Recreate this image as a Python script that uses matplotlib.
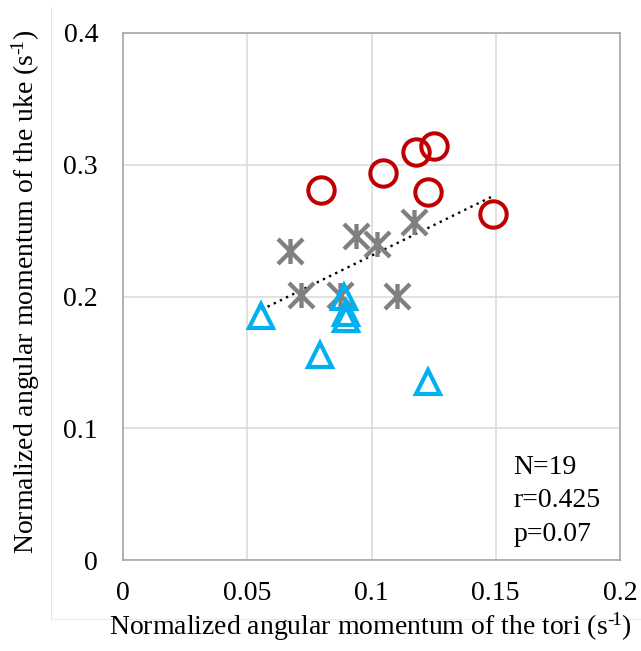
import numpy as np
import matplotlib
matplotlib.use('Agg')
import matplotlib.pyplot as plt
from matplotlib.path import Path
from matplotlib.lines import Line2D

plt.rcParams['font.family'] = ['Liberation Serif', 'DejaVu Serif']
plt.rcParams['mathtext.fontset'] = 'custom'
plt.rcParams['mathtext.rm'] = 'Liberation Serif'
plt.rcParams['mathtext.it'] = 'Liberation Serif:italic'

# red circles
red_x = [0.0797, 0.1045, 0.1178, 0.1251, 0.1226, 0.1490]
red_y = [0.2805, 0.2940, 0.3100, 0.3140, 0.2790, 0.2628]
# gray asterisks
gray_x = [0.0673, 0.0717, 0.0874, 0.0936, 0.1023, 0.1173, 0.1102]
gray_y = [0.2347, 0.2008, 0.2013, 0.2456, 0.2397, 0.2562, 0.2005]
# blue triangles
blue_x = [0.0557, 0.0793, 0.1226, 0.0890, 0.0899, 0.0899]
blue_y = [0.1853, 0.1557, 0.1350, 0.2000, 0.1873, 0.1828]

x_ticks = [0, 0.05, 0.1, 0.15, 0.2]
x_tick_labels = ['0', '0.05', '0.1', '0.15', '0.2']
y_ticks = [0, 0.1, 0.2, 0.3, 0.4]
y_tick_labels = ['0', '0.1', '0.2', '0.3', '0.4']
stats_text = 'N=19\nr=0.425\np=0.07'
unit = '(s$^{\u2010\\!1}$)'

# asterisk marker: vertical bar plus an X
star = Path([(0, -1), (0, 1), (-1, -1), (1, 1), (-1, 1), (1, -1)],
            [Path.MOVETO, Path.LINETO, Path.MOVETO, Path.LINETO, Path.MOVETO, Path.LINETO])

fig = plt.figure(figsize=(6.41, 6.51), dpi=100)
ax = fig.add_axes([123/641, 1-560/651, 497/641, 527/651])

all_x = np.array(red_x + gray_x + blue_x)
all_y = np.array(red_y + gray_y + blue_y)
k, b = np.polyfit(all_x, all_y, 1)
xs = np.array([all_x.min(), all_x.max()])
ax.plot(xs, k*xs + b, color='black', lw=1.7, ls=(0, (1, 1.9)), zorder=3)

ax.plot(gray_x, gray_y, ls='none', marker=star, ms=18, mew=3.1, mec='#808080',
        mfc='none', zorder=4)
ax.plot(blue_x, blue_y, ls='none', marker='^', ms=17.5, mew=3.0, mec='#00B0F0',
        mfc='none', zorder=4)
ax.plot(red_x, red_y, ls='none', marker='o', ms=19, mew=2.9, mec='#C00000',
        mfc='none', zorder=4)

ax.set_xlim(0, 0.2)
ax.set_ylim(0, 0.4)
ax.set_xticks(x_ticks)
ax.set_xticklabels(x_tick_labels)
ax.set_yticks(y_ticks)
ax.set_yticklabels(y_tick_labels)
ax.tick_params(length=0, labelsize=20)
ax.tick_params(axis='x', pad=15)
ax.tick_params(axis='y', pad=18)
ax.grid(color='#d9d9d9', lw=1.1)
ax.set_axisbelow(True)
for s in ax.spines.values():
    s.set_color('#a0a0a0')
    s.set_linewidth(1.1)

ax.text(0.785, 0.2, stats_text, transform=ax.transAxes, fontsize=20,
        ha='left', va='top', linespacing=1.45)

fig.text(370/641, 1-627/651, 'Normalized angular momentum of the tori ' + unit,
         fontsize=20, ha='center', va='center')
fig.text(26/641, 1-292/651, 'Normalized angular momentum of the uke ' + unit,
         fontsize=20, ha='center', va='center', rotation=90)

fig.add_artist(Line2D([51/641, 51/641], [1-8/651, 1-619/651], color='#e3e3e3', lw=0.8))
fig.add_artist(Line2D([51/641, 1], [1-619/651, 1-619/651], color='#ececec', lw=0.8))

fig.savefig('out.png', dpi=100)
